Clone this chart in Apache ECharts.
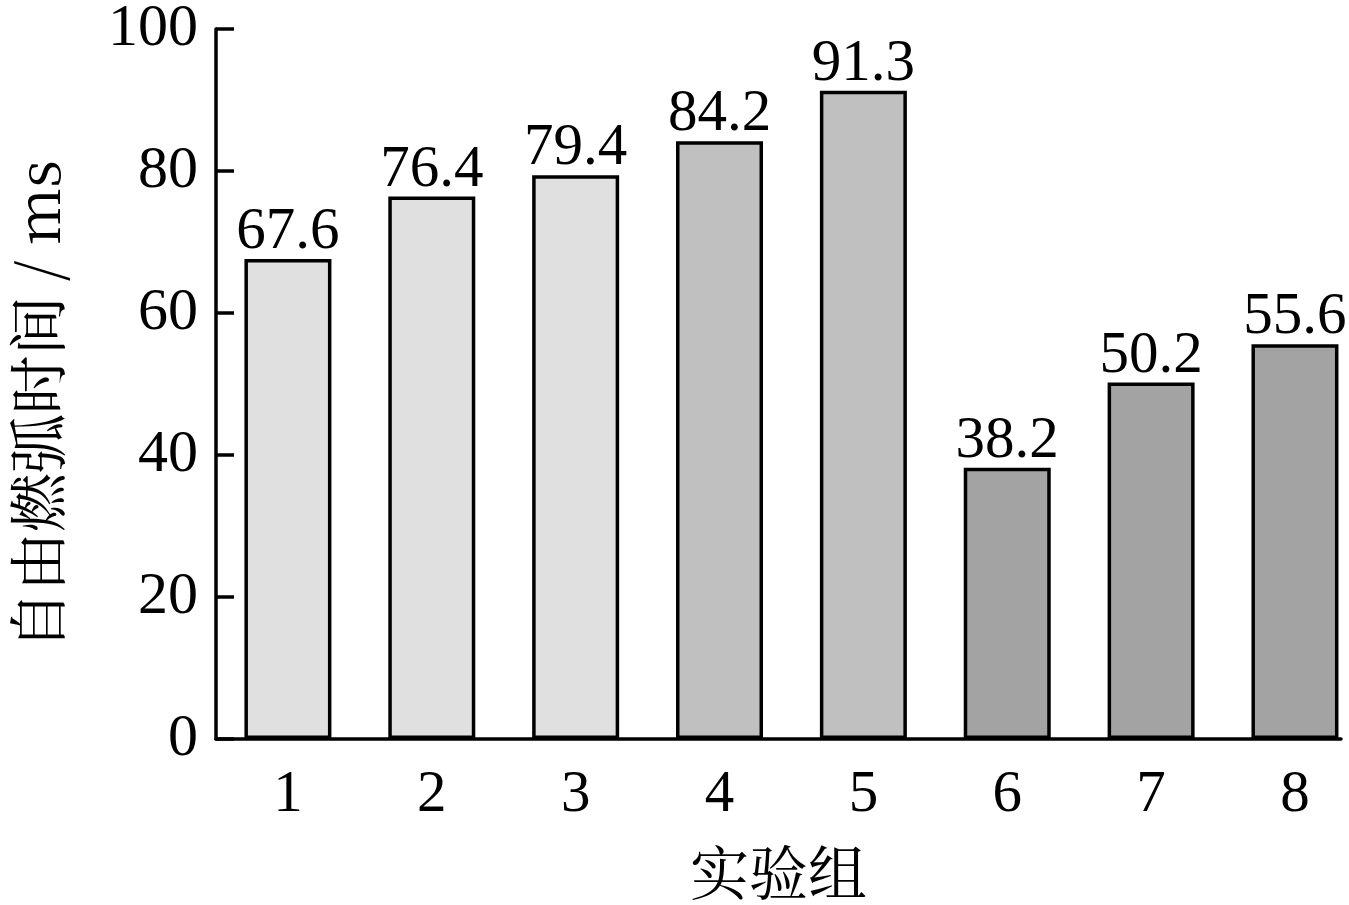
<!DOCTYPE html>
<html>
<head>
<meta charset="utf-8">
<script src="https://cdn.jsdelivr.net/npm/echarts@6/dist/echarts.min.js"></script>
<style>html,body{margin:0;padding:0;background:#fff;}#c{width:1349px;height:905px;}</style>
</head>
<body>
<div id="c"></div>
<script>
const groups = [1, 2, 3, 4, 5, 6, 7, 8];
const arcTimes = [67.6, 76.4, 79.4, 84.2, 91.3, 38.2, 50.2, 55.6];
const barColors = ['#e0e0e0', '#e0e0e0', '#e0e0e0', '#c0c0c0', '#c0c0c0', '#a3a3a3', '#a3a3a3', '#a3a3a3'];
const yTicks = [0, 20, 40, 60, 80, 100];
const xTitle = '实验组';
const yTitle = '自由燃弧时间 / ms';

const serif = "'Liberation Serif', 'Times New Roman', serif";
const cjk = "'Noto Serif CJK SC', 'Noto Sans CJK SC', serif";

const chart = echarts.init(document.getElementById('c'), null, {renderer: 'canvas'});
chart.setOption({
  animation: false,
  backgroundColor: '#fff',
  grid: {left: 216, right: 8, top: 29, bottom: 166, containLabel: false, outerBoundsMode: 'none'},
  graphic: [{
    type: 'text', left: 8, top: 160, rotation: Math.PI / 2,
    style: {text: yTitle, font: "59px " + cjk, fill: '#000'}
  }],
  xAxis: {
    type: 'value', min: 0.5, max: 8.32,
    name: xTitle, nameLocation: 'middle', nameGap: 104,
    nameTextStyle: {fontFamily: cjk, fontSize: 59, color: '#000'},
    axisLine: {show: true, onZero: false, lineStyle: {color: '#000', width: 3.5}},
    axisTick: {show: false},
    splitLine: {show: false},
    axisLabel: {customValues: groups, fontFamily: serif, fontSize: 59, color: '#000', margin: 27,
      formatter: v => String(v)}
  },
  yAxis: {
    type: 'value', min: 0, max: 100, interval: 20,
    axisLine: {show: true, lineStyle: {color: '#000', width: 3.5}},
    axisTick: {show: true, inside: true, length: 18, lineStyle: {color: '#000', width: 3.5}},
    splitLine: {show: false},
    axisLabel: {fontFamily: serif, fontSize: 60, color: '#000', margin: 18,
      customValues: yTicks}
  },
  series: [{
    type: 'bar',
    barWidth: 87,
    data: groups.map((g, i) => ({value: [g, arcTimes[i]], itemStyle: {color: barColors[i]}})),
    itemStyle: {borderColor: '#000', borderWidth: 3.5},
    label: {show: true, position: 'top', distance: -3, fontFamily: serif, fontSize: 59, color: '#000',
      formatter: p => p.value[1].toFixed(1)}
  }]
});
</script>
</body>
</html>
